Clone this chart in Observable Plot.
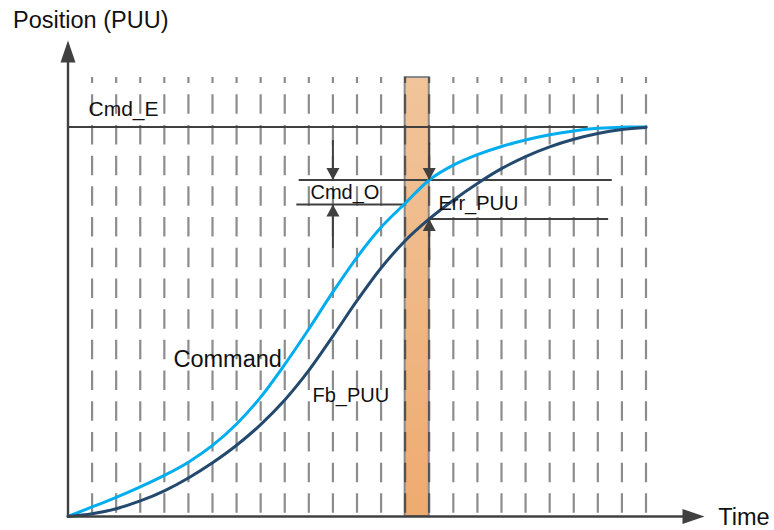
<!DOCTYPE html>
<html><head><meta charset="utf-8">
<script src="https://cdn.jsdelivr.net/npm/d3@7"></script>
<script src="https://cdn.jsdelivr.net/npm/@observablehq/plot@0.6"></script>
<style>body{margin:0;background:#fff}</style>
</head><body><div id="chart"></div>
<script>
// ---- data (time units / position units, Cmd_E = 100) ----
const times    = [0,1,2,3,4,5,6,7,8,9,10,11,12,13,14,15,16,17,18,19,20,21,22,23,24];
const command  = [0,2.45,4.9,7.6,10.55,13.95,18.25,23.75,30.65,39.05,48.15,57.65,66.55,74.25,80.4,86.4,90.2,92.9,95.0,96.65,98.0,99.0,99.65,99.95,100];
const feedback = [0,0.7,2.0,4.0,6.6,9.9,13.8,18.3,23.6,29.9,37.5,46.3,55.4,63.8,70.8,76.4,81.2,85.5,89.3,92.4,94.9,96.85,98.35,99.35,99.9];
const gridTimes = [1,2,3,4,5,6,7,8,9,10,11,12,13,14,15,16,17,18,19,20,21,22,23,24];
const gridTop = 112.7;
const sampleStart = 14, sampleEnd = 15;           // highlighted sampling interval
const axisTopValue = 122.2, axisEndTime = 26.43;   // arrow tips of the axes

// reference levels: Cmd_E, Cmd_O (upper / lower), Err_PUU lower
const levelNames = ["Cmd_E", "Cmd_O upper", "Cmd_O lower", "Err_PUU lower"];
const levelValue = [100, 86.4, 80.1, 76.4];
const levelFrom  = [0, 9.6, 9.5, 15];
const levelTo    = [21.6, 22.6, 14, 22.45];

// dimension arrows: time, start value, tip value
const arrowTime = [11, 11, 15, 15];
const arrowFrom = [96.5, 68.8, 95.8, 65.7];
const arrowTip  = [86.4, 80.1, 86.4, 76.4];

// labels (anchor in data units: left edge / baseline)
const labelText = ["Position (PUU)", "Cmd_E", "Cmd_O", "Err_PUU", "Command", "Fb_PUU", "Time"];
const labelTime = [-2.28, 0.85, 10.07, 15.38, 4.38, 10.15, 27.0];
const labelPos  = [125.5, 102.7, 81.6, 78.8, 38.5, 29.35, -2.3];

// ---- styles ----
const fontSizes = {"Position (PUU)": 23.5, "Cmd_E": 21, "Cmd_O": 20, "Err_PUU": 20, "Command": 23.5, "Fb_PUU": 20, "Time": 23.5};
const dark = "#404040";

function tri(dir, len, w) {
  return {draw(ctx) {
    if (dir === "up")    { ctx.moveTo(0,0); ctx.lineTo(-w/2,len); ctx.lineTo(w/2,len); }
    if (dir === "down")  { ctx.moveTo(0,0); ctx.lineTo(-w/2,-len); ctx.lineTo(w/2,-len); }
    if (dir === "right") { ctx.moveTo(0,0); ctx.lineTo(-len,-w/2); ctx.lineTo(-len,w/2); }
    ctx.closePath();
  }};
}

const curveData = times.map((t,i) => ({t, command: command[i], feedback: feedback[i]}));
const levels = levelNames.map((n,i) => ({n, v: levelValue[i], a: levelFrom[i], b: levelTo[i]}));
const arrows = arrowTime.map((t,i) => ({t, from: arrowFrom[i], tip: arrowTip[i], dir: arrowTip[i] > arrowFrom[i] ? "up" : "down"}));
const labels = labelText.map((s,i) => ({s, t: labelTime[i], v: labelPos[i]}));

const plot = Plot.plot({
  width: 774, height: 530,
  x: {domain: [0, 24], range: [67.5, 645.5], axis: null},
  y: {domain: [0, 100], range: [516, 126.5], axis: null},
  style: {background: "white", fontFamily: "'Liberation Sans', Arial, sans-serif"},
  marks: [
    Plot.rect([0], {x1: () => sampleStart, x2: () => sampleEnd, y1: () => 0, y2: () => gridTop,
      fill: "url(#barGrad)", stroke: "#888", strokeWidth: 2}),
    Plot.ruleX(gridTimes, {x: d => d, y1: () => gridTop, y2: () => 0, stroke: "black", strokeOpacity: 0.45,
      strokeWidth: 2.2, strokeDasharray: "19.5,11.2", strokeDashoffset: 13.5}),
    Plot.ruleY(levels, {y: "v", x1: "a", x2: "b", stroke: dark, strokeWidth: 2}),
    Plot.line(curveData, {x: "t", y: "command", stroke: "#00AEEF", strokeWidth: 3, curve: "monotone-x"}),
    Plot.line(curveData, {x: "t", y: "feedback", stroke: "#24496E", strokeWidth: 3, curve: "monotone-x"}),
    Plot.ruleX(arrows, {x: "t", y1: "from", y2: "tip", stroke: dark, strokeWidth: 2}),
    Plot.dot(arrows.filter(d => d.dir === "down"), {x: "t", y: "tip", symbol: tri("down", 12, 13), fill: dark, stroke: "none"}),
    Plot.dot(arrows.filter(d => d.dir === "up"), {x: "t", y: "tip", symbol: tri("up", 12, 13), fill: dark, stroke: "none"}),
    // axes
    Plot.ruleX([0], {x: d => d, y1: () => 0, y2: () => axisTopValue - 5, stroke: dark, strokeWidth: 2.4}),
    Plot.ruleY([0], {y: d => d, x1: () => 0, x2: () => axisEndTime - 0.8, stroke: dark, strokeWidth: 2.4}),
    Plot.dot([0], {x: () => 0, y: () => axisTopValue, symbol: tri("up", 22, 15), fill: dark, stroke: "none"}),
    Plot.dot([0], {x: () => axisEndTime, y: () => 0, symbol: tri("right", 22, 15), fill: dark, stroke: "none"}),
    Plot.text(labels, {x: "t", y: "v", text: "s", textAnchor: "start", lineAnchor: "bottom",
      fontSize: d => fontSizes[d.s], fill: "#111"})
  ]
});

const svg = d3.select(plot);
const grad = svg.insert("defs", ":first-child").append("linearGradient")
  .attr("id", "barGrad").attr("x1", 0).attr("y1", 0).attr("x2", 0).attr("y2", 1);
grad.append("stop").attr("offset", "0%").attr("stop-color", "#F1C49A");
grad.append("stop").attr("offset", "100%").attr("stop-color", "#EEAB70");
document.getElementById("chart").appendChild(plot);
</script>
</body></html>
